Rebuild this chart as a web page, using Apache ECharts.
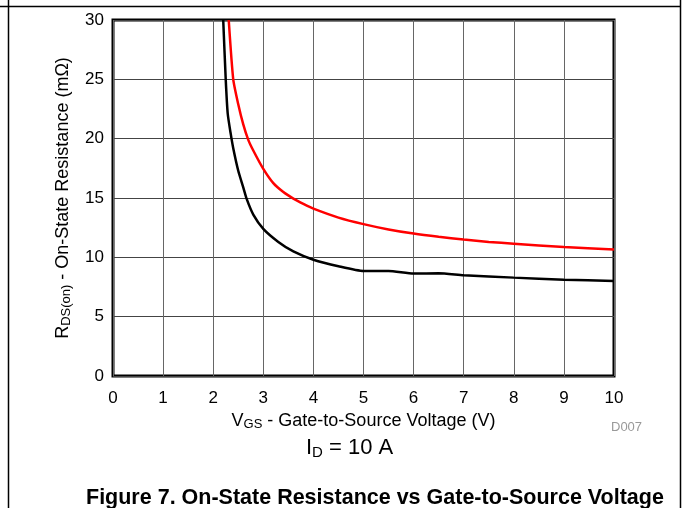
<!DOCTYPE html>
<html>
<head>
<meta charset="utf-8">
<script src="https://cdn.jsdelivr.net/npm/echarts@6/dist/echarts.min.js"></script>
<style>
html,body{margin:0;padding:0;background:#fff;}
#chart{width:683px;height:508px;}
</style>
</head>
<body>
<div id="chart"></div>
<script>
// Data (VGS in V, RDS(on) in mΩ)
const blackCurve = [[2.20,30],[2.25,25],[2.29,22.1],[2.35,20.4],[2.4,19.2],[2.5,17.3],[2.6,15.9],[2.67,14.9],[2.8,13.6],[3.0,12.4],[3.3,11.3],[3.6,10.5],[4.0,9.8],[4.5,9.25],[5.0,8.85],[5.5,8.85],[6.0,8.63],[6.5,8.65],[7.0,8.49],[8.0,8.29],[9.0,8.12],[10,8.0]];
const redCurve = [[2.31,30],[2.40,25.0],[2.5,22.9],[2.6,21.2],[2.7,19.9],[2.8,19.0],[3.0,17.45],[3.2,16.25],[3.4,15.5],[3.6,14.95],[3.8,14.5],[4.0,14.1],[4.5,13.35],[5.0,12.8],[5.5,12.35],[6.0,12.0],[6.5,11.73],[7.0,11.5],[7.5,11.3],[8.0,11.15],[9.0,10.87],[10,10.67]];
const xRange = [0, 10, 1];
const yRange = [0, 30, 5];

const FONT = '"Liberation Sans", Arial, sans-serif';
const chart = echarts.init(document.getElementById('chart'));
chart.setOption({
  animation: false,
  backgroundColor: '#fff',
  grid: { left: 113, right: 69, top: 20, bottom: 132, show: true, borderColor: '#000', borderWidth: 3, backgroundColor: 'transparent' },
  xAxis: {
    type: 'value', min: xRange[0], max: xRange[1], interval: xRange[2],
    axisLine: { show: false },
    axisTick: { show: false },
    splitLine: { show: true, lineStyle: { color: '#666', width: 1 } },
    axisLabel: { color: '#000', fontSize: 17, fontFamily: FONT, margin: 14 },
    name: '{n|V}{s|GS}{n| - Gate-to-Source Voltage (V)}',
    nameLocation: 'middle', nameGap: 32,
    nameTextStyle: { rich: {
      n: { fontSize: 18, fontFamily: FONT, color: '#000' },
      s: { fontSize: 13, fontFamily: FONT, color: '#000', verticalAlign: 'bottom', padding: [7,0,0,0] }
    } }
  },
  yAxis: {
    type: 'value', min: yRange[0], max: yRange[1], interval: yRange[2],
    axisLine: { show: false },
    axisTick: { show: false },
    splitLine: { show: true, lineStyle: { color: '#444', width: 1 } },
    axisLabel: { color: '#000', fontSize: 17, fontFamily: FONT, margin: 9 },
    name: '{n|R}{s|DS(on)}{n| - On-State Resistance (mΩ)}',
    nameLocation: 'middle', nameGap: 40, nameRotate: 90,
    nameTextStyle: { rich: {
      n: { fontSize: 18, fontFamily: FONT, color: '#000' },
      s: { fontSize: 13, fontFamily: FONT, color: '#000', verticalAlign: 'bottom', padding: [7,0,0,0] }
    } }
  },
  series: [
    { type: 'line', data: blackCurve, showSymbol: false, smooth: 0.2,
      lineStyle: { color: '#000', width: 2.5 }, z: 3 },
    { type: 'line', data: redCurve, showSymbol: false, smooth: 0.2,
      lineStyle: { color: '#ff0000', width: 2.5 }, z: 4 }
  ],
  graphic: [
    { type: 'line', shape: { x1: 0, y1: 6.5, x2: 680.5, y2: 6.5 }, style: { stroke: '#000', lineWidth: 1.5 } },
    { type: 'line', shape: { x1: 8.5, y1: 0, x2: 8.5, y2: 508 }, style: { stroke: '#000', lineWidth: 1.5 } },
    { type: 'line', shape: { x1: 680.5, y1: 0, x2: 680.5, y2: 508 }, style: { stroke: '#000', lineWidth: 1.5 } },
    { type: 'text', left: 611, top: 421, style: { text: 'D007', fill: '#999', fontSize: 13, fontFamily: FONT } },
    { type: 'text', left: 306, top: 437, style: {
      text: '{n|I}{s|D}{n| = 10 A}',
      rich: {
        n: { fontSize: 22, fontFamily: FONT, fill: '#000' },
        s: { fontSize: 15, fontFamily: FONT, fill: '#000', verticalAlign: 'bottom', padding: [9,0,0,0] }
      } } },
    { type: 'text', left: 86, top: 487, style: { text: 'Figure 7. On-State Resistance vs Gate-to-Source Voltage', fill: '#000', fontSize: 21.5, fontWeight: 'bold', fontFamily: FONT } }
  ]
});
</script>
</body>
</html>
